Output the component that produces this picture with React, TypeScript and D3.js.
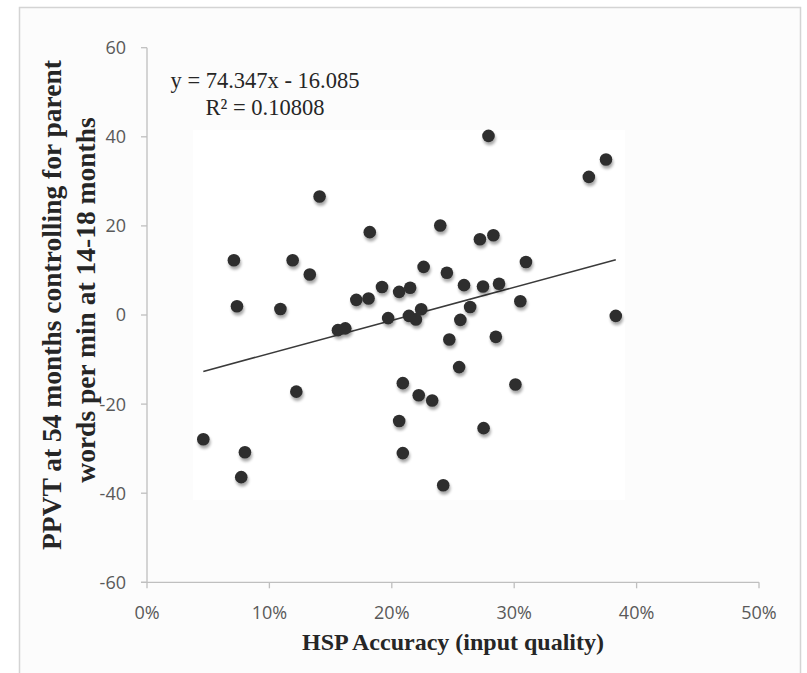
import React from "react";
import * as d3 from "d3";

// HSP accuracy (fraction) and PPVT residual values
const hspAccuracy = [
  0.046, 0.071, 0.0735, 0.077, 0.080, 0.109, 0.119, 0.122, 0.133, 0.141,
  0.156, 0.162, 0.171, 0.181, 0.182, 0.192, 0.197, 0.206, 0.206, 0.209,
  0.209, 0.214, 0.215, 0.2197, 0.222, 0.224, 0.226, 0.233, 0.2396, 0.242,
  0.245, 0.247, 0.255, 0.256, 0.259, 0.264, 0.272, 0.2745, 0.275, 0.279,
  0.283, 0.285, 0.2876, 0.301, 0.305, 0.3096, 0.361, 0.375, 0.383,
];
const ppvt = [
  -27.9, 12.3, 1.95, -36.4, -30.8, 1.35, 12.3, -17.2, 9.1, 26.6,
  -3.4, -3.0, 3.4, 3.7, 18.6, 6.3, -0.7, 5.2, -23.8, -15.3,
  -31.0, -0.2, 6.1, -1.0, -18.0, 1.3, 10.8, -19.2, 20.1, -38.2,
  9.5, -5.5, -11.7, -1.1, 6.7, 1.8, 17.0, 6.4, -25.4, 40.2,
  17.9, -4.9, 7.0, -15.6, 3.1, 11.9, 31.0, 34.9, -0.2,
];

const xTicks = [0, 0.1, 0.2, 0.3, 0.4, 0.5];
const yTicks = [-60, -40, -20, 0, 20, 40, 60];
const slope = 74.347;
const intercept = -16.085;
const equationText = "y = 74.347x - 16.085";
const r2Text = "R² = 0.10808";
const yTitleLines = [
  "PPVT at 54 months controlling for parent",
  "words per min at 14-18 months",
];
const xTitle = "HSP Accuracy (input quality)";

export default function App() {
  const W = 807;
  const H = 673;
  const x = d3.scaleLinear().domain([0, 0.5]).range([147, 759]);
  const y = d3.scaleLinear().domain([-60, 60]).range([582.3, 47.7]);
  const pts = hspAccuracy.map((v, i) => ({ x: v, y: ppvt[i] }));
  const [xmin, xmax] = d3.extent(hspAccuracy) as [number, number];
  const line = d3
    .line<number>()
    .x((d) => x(d))
    .y((d) => y(slope * d + intercept));
  const axisColor = "#bfbfbf";
  const tickText = "#595959";
  const xAxisY = y(-60);
  const yAxisX = x(0);

  return (
    <svg
      width={W}
      height={H}
      style={{ position: "absolute", left: 0, top: 0, background: "#ffffff" }}
    >
      <defs>
        <filter id="shadow" x="-50%" y="-50%" width="200%" height="200%">
          <feGaussianBlur in="SourceAlpha" stdDeviation="1.6" />
          <feOffset dx="0.5" dy="2.5" result="ob" />
          <feComponentTransfer>
            <feFuncA type="linear" slope="0.35" />
          </feComponentTransfer>
          <feMerge>
            <feMergeNode />
            <feMergeNode in="SourceGraphic" />
          </feMerge>
        </filter>
      </defs>
      {/* outer frame */}
      <rect x={19.5} y={7.5} width={781} height={700} fill="#fcfcfc" stroke="#d4d4d4" strokeWidth={1.5} />
      <rect x={193} y={130} width={432} height={370} fill="#ffffff" />

      {/* axes */}
      <line x1={yAxisX} x2={yAxisX} y1={y(60)} y2={xAxisY} stroke={axisColor} strokeWidth={1.3} />
      <line x1={yAxisX - 6} x2={x(0.5)} y1={xAxisY} y2={xAxisY} stroke={axisColor} strokeWidth={1.3} />
      {yTicks.map((t) => (
        <g key={"y" + t}>
          <line x1={yAxisX - 6} x2={yAxisX} y1={y(t)} y2={y(t)} stroke={axisColor} strokeWidth={1.3} />
          <text
            x={126}
            y={y(t)}
            dy="0.36em"
            textAnchor="end"
            fontFamily="'Open Sans', sans-serif"
            fontSize={18}
            fill={tickText}
          >
            {t}
          </text>
        </g>
      ))}
      {xTicks.map((t) => (
        <g key={"x" + t}>
          <line x1={x(t)} x2={x(t)} y1={xAxisY} y2={xAxisY + 6} stroke={axisColor} strokeWidth={1.3} />
          <text
            x={x(t)}
            y={618.5}
            textAnchor="middle"
            fontFamily="'Open Sans', sans-serif"
            fontSize={18}
            fill={tickText}
          >
            {d3.format(".0%")(t)}
          </text>
        </g>
      ))}

      {/* trendline */}
      <path d={line([xmin, xmax]) || ""} fill="none" stroke="#3a3a3a" strokeWidth={1.6} />

      {/* points */}
      <g filter="url(#shadow)">
        {pts.map((p, i) => (
          <circle key={i} cx={x(p.x)} cy={y(p.y)} r={6.3} fill="#2e2e2e" />
        ))}
      </g>

      {/* equation */}
      <text x={265} y={87.7} textAnchor="middle" fontFamily="'Liberation Serif', serif" fontSize={22.5} fill="#262626">
        {equationText}
      </text>
      <text x={265} y={115} textAnchor="middle" fontFamily="'Liberation Serif', serif" fontSize={22.5} fill="#262626">
        {r2Text}
      </text>

      {/* axis titles */}
      <text
        transform={`translate(60.7, 305) rotate(-90)`}
        textAnchor="middle"
        fontFamily="'Liberation Serif', serif"
        fontWeight="bold"
        fontSize={27.5}
        fill="#262626"
      >
        {yTitleLines[0]}
      </text>
      <text
        transform={`translate(95, 300) rotate(-90)`}
        textAnchor="middle"
        fontFamily="'Liberation Serif', serif"
        fontWeight="bold"
        fontSize={27.5}
        fill="#262626"
      >
        {yTitleLines[1]}
      </text>
      <text
        x={(x(0) + x(0.5)) / 2}
        y={650}
        textAnchor="middle"
        fontFamily="'Liberation Serif', serif"
        fontWeight="bold"
        fontSize={24}
        fill="#262626"
      >
        {xTitle}
      </text>
    </svg>
  );
}
